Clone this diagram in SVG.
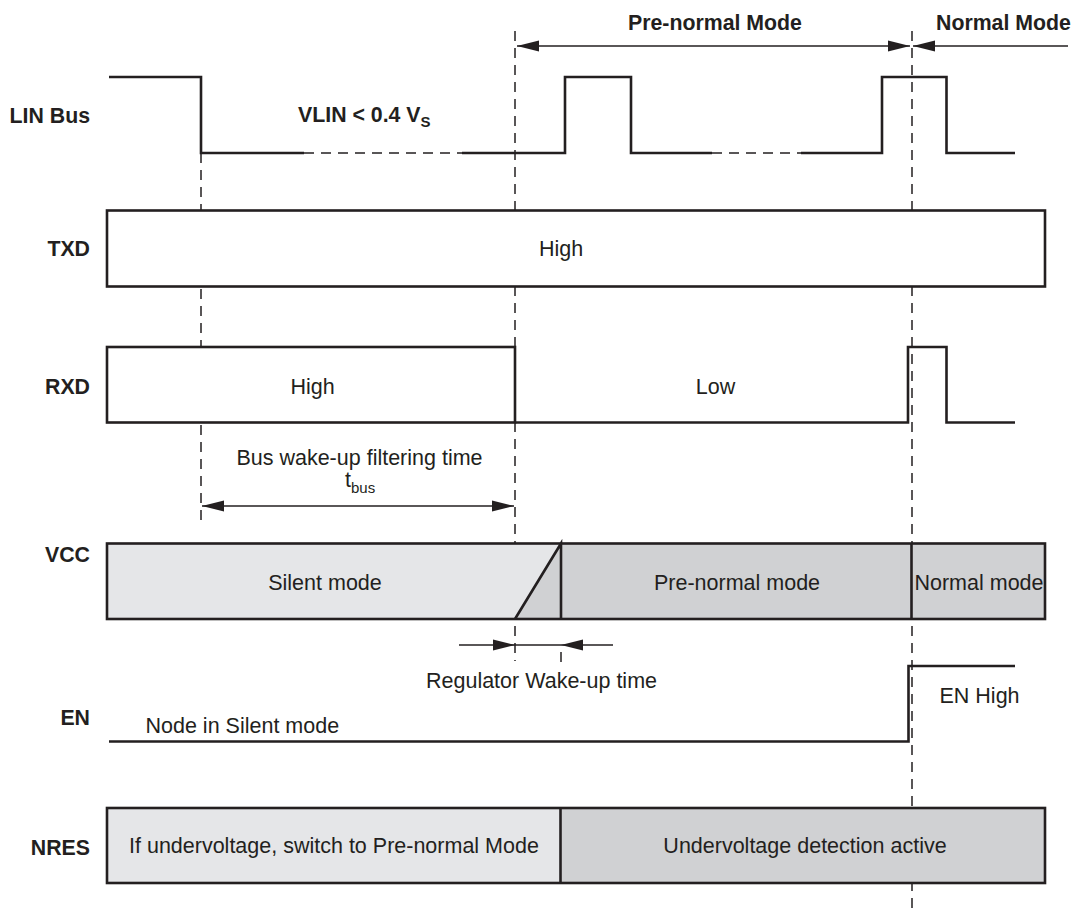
<svg xmlns="http://www.w3.org/2000/svg" width="1073" height="914" viewBox="0 0 1073 914">
<style>
.lbl{font-family:"Liberation Sans",Arial,sans-serif;font-weight:bold;font-size:21.3px;fill:#231f20}
.txt{font-family:"Liberation Sans",Arial,sans-serif;font-size:21.5px;fill:#231f20}
.wave{fill:none;stroke:#231f20;stroke-width:2.6;stroke-linejoin:miter}
.box{stroke:#231f20;stroke-width:2.6}
.dash{fill:none;stroke:#231f20;stroke-width:1.5;stroke-dasharray:10 7}
.arr{fill:none;stroke:#231f20;stroke-width:1.5}
.light{fill:#e5e6e8}
.dark{fill:#d0d1d3}
</style>
<defs>
<marker id="ah" markerUnits="userSpaceOnUse" markerWidth="22" markerHeight="12" refX="22" refY="6" orient="auto-start-reverse" viewBox="0 0 22 12">
<path d="M0,0.5 L22,6 L0,11.5 z" fill="#231f20"/>
</marker>
</defs>
<g id="connectors">
<line class="dash" x1="201" y1="153" x2="201" y2="521"/>
<line class="dash" x1="515" y1="31" x2="515" y2="661"/>
<line class="dash" x1="912" y1="31" x2="912" y2="912"/>
<line class="dash" x1="561" y1="652" x2="561" y2="663"/>
<line class="arr" x1="517" y1="46" x2="910" y2="46" marker-start="url(#ah)" marker-end="url(#ah)"/>
<line class="arr" x1="913" y1="46" x2="1068" y2="46" marker-start="url(#ah)"/>
<line class="arr" x1="202" y1="506" x2="514" y2="506" marker-start="url(#ah)" marker-end="url(#ah)"/>
<line class="arr" x1="459" y1="645" x2="515" y2="645" marker-end="url(#ah)"/>
<line class="arr" x1="515" y1="645" x2="561" y2="645"/>
<line class="arr" x1="613" y1="645" x2="561" y2="645" marker-end="url(#ah)"/>
</g>
<g id="modes">
<text class="lbl" x="715" y="30" text-anchor="middle">Pre-normal Mode</text>
<text class="lbl" x="936" y="30">Normal Mode</text>
</g>
<g id="lin">
<text class="lbl" x="90" y="123" text-anchor="end">LIN Bus</text>
<path class="wave" d="M109,77 H201 V153 H304"/>
<line class="dash" x1="304" y1="153" x2="462" y2="153"/>
<path class="wave" d="M462,153 H565 V77 H631 V153 H712"/>
<line class="dash" x1="712" y1="153" x2="801" y2="153"/>
<path class="wave" d="M801,153 H882 V77 H946.5 V153 H1015"/>
<text class="lbl" x="298" y="122">VLIN &lt; 0.4 V<tspan font-size="15" dy="5">S</tspan></text>
</g>
<g id="txd">
<text class="lbl" x="90" y="256" text-anchor="end">TXD</text>
<rect class="box" x="107" y="210.5" width="938" height="76" fill="#fff"/>
<text class="txt" x="561" y="256" text-anchor="middle">High</text>
</g>
<g id="rxd">
<text class="lbl" x="90" y="394" text-anchor="end">RXD</text>
<rect class="box" x="107" y="347" width="408" height="75.5" fill="#fff"/>
<path class="wave" d="M515,422.5 H908 V347 H946.5 V422.5 H1015"/>
<text class="txt" x="312.5" y="394" text-anchor="middle">High</text>
<text class="txt" x="715.5" y="394" text-anchor="middle">Low</text>
</g>
<g id="tbus">
<text class="txt" x="359.5" y="465" text-anchor="middle">Bus wake-up filtering time</text>
<text class="txt" x="345" y="487">t<tspan font-size="15" dy="6">bus</tspan></text>
</g>
<g id="vcc">
<text class="lbl" x="90" y="562" text-anchor="end">VCC</text>
<rect class="light" x="107" y="543.5" width="938" height="75.5"/>
<polygon class="dark" points="515,619 561,543.5 1045,543.5 1045,619"/>
<rect class="box" x="107" y="543.5" width="938" height="75.5" fill="none"/>
<path class="wave" d="M515,619 L561,543.5 V619 M911.5,543.5 V619"/>
<text class="txt" x="325" y="589.5" text-anchor="middle">Silent mode</text>
<text class="txt" x="737" y="589.5" text-anchor="middle">Pre-normal mode</text>
<text class="txt" x="979" y="589.5" text-anchor="middle">Normal mode</text>
<text class="txt" x="541.5" y="688" text-anchor="middle">Regulator Wake-up time</text>
</g>
<g id="en">
<text class="lbl" x="90" y="725" text-anchor="end">EN</text>
<path class="wave" d="M109,741.5 H908.5 V666 H1015"/>
<text class="txt" x="145.5" y="733">Node in Silent mode</text>
<text class="txt" x="939.5" y="703">EN High</text>
</g>
<g id="nres">
<text class="lbl" x="90" y="855" text-anchor="end">NRES</text>
<rect class="light" x="107" y="808" width="453.5" height="75"/>
<rect class="dark" x="560.5" y="808" width="484.5" height="75"/>
<rect class="box" x="107" y="808" width="938" height="75" fill="none"/>
<line class="wave" x1="560.5" y1="808" x2="560.5" y2="883"/>
<text class="txt" x="129" y="853">If undervoltage, switch to Pre-normal Mode</text>
<text class="txt" x="805" y="853" text-anchor="middle">Undervoltage detection active</text>
</g>
</svg>
